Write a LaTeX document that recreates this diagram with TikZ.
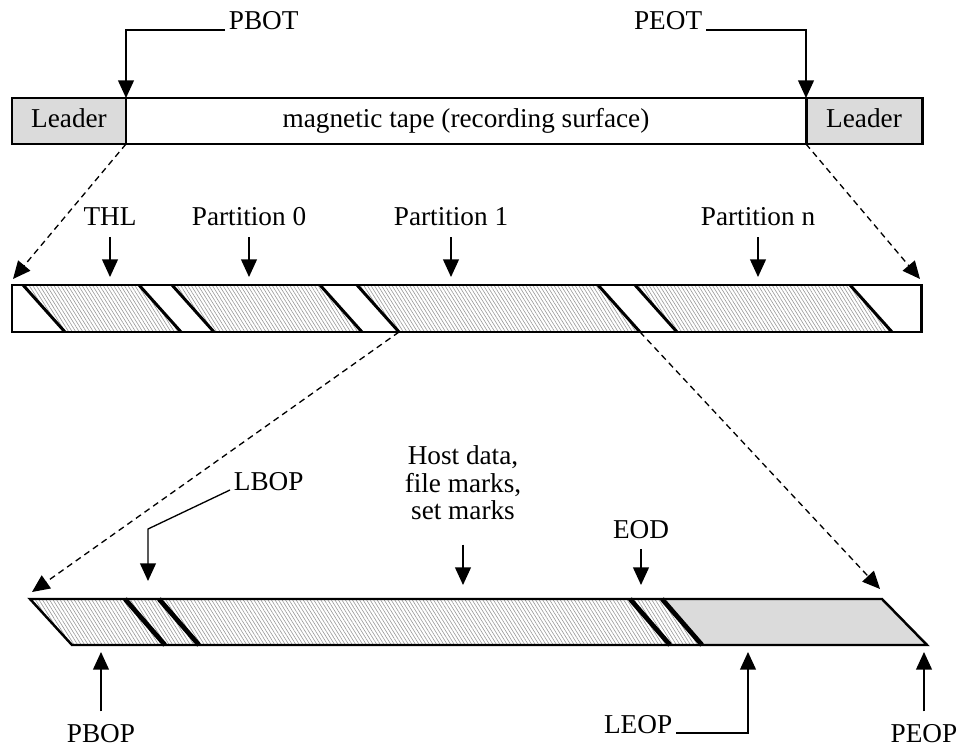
\documentclass[tikz,border=0pt]{standalone}
\usepackage{fontspec}
\setmainfont{Liberation Serif}
\usetikzlibrary{arrows.meta,patterns.meta}
\begin{document}
\begin{tikzpicture}[x=0.02cm,y=-0.02cm,
  font=\fontsize{15.5}{15.5}\selectfont,
  tapeedge/.style={line width=1.7pt},
  filemark/.style={line width=2.7pt},
  pointer/.style={line width=0.75pt,-{Triangle[width=9pt,length=10pt]}},
  zoomline/.style={line width=0.75pt,dash pattern=on 3.5pt off 2.5pt,-{Triangle[width=9pt,length=10pt]}},
  hatch/.style={pattern={Lines[angle=-58,distance=1.7pt,line width=0.35pt]},pattern color=gray!80},
  leaderfill/.style={fill=black!14},
  callout/.style={inner sep=2pt}]
\useasboundingbox (0,0) rectangle (963,746);
% whole tape with leaders
\draw[tapeedge,leaderfill] (12,98) rectangle (126,144);
\draw[tapeedge] (126,98) rectangle (806,144);
\draw[tapeedge,leaderfill] (806,98) rectangle (922,144);
\node[anchor=base] (leadL) at (69,128) {Leader};
\node[anchor=base] (surface) at (466,128) {magnetic tape (recording surface)};
\node[anchor=base] (leadR) at (864,128) {Leader};
\coordinate (bot) at (126,98);
\coordinate (eot) at (806,98);
\coordinate (botlow) at (126,144);
\coordinate (eotlow) at (806,144);
\node[callout,anchor=base west] (pbot) at (225,30) {PBOT};
\node[callout,anchor=base east] (peot) at (706,30) {PEOT};
\draw[pointer] (pbot.base west) -| (bot);
\draw[pointer] (peot.base east) -| (eot);
% partitions
\foreach \a/\b in {23/139,172/320,357/598,635/850}
  \fill[hatch] (\a,285) -- (\b,285) -- (\b+42,332) -- (\a+42,332) -- cycle;
\draw[tapeedge] (12,285) rectangle (921,332);
\foreach \p in {23,139,172,320,357,598,635,850}
  \draw[tapeedge] (\p,285) -- (\p+42,332);
\coordinate (midTL) at (13,279);
\coordinate (midTR) at (920,279);
\coordinate (midtop) at (0,277);
\coordinate (poneL) at (399,332);
\coordinate (poneR) at (640,332);
\draw[zoomline] (botlow) -- (midTL);
\draw[zoomline] (eotlow) -- (midTR);
\node[callout,anchor=base] (thl) at (110,226) {THL};
\node[callout,anchor=base] (part0) at (249,226) {Partition 0};
\node[callout,anchor=base] (part1) at (451,226) {Partition 1};
\node[callout,anchor=base] (partn) at (758,226) {Partition n};
\foreach \n in {thl,part0,part1,partn}
  \draw[pointer,shorten <=4pt] (\n.south) -- (\n.south |- midtop);
% one partition
\fill[hatch] (30,599) -- (662,599) -- (702,645) -- (72,645) -- cycle;
\fill[leaderfill] (662,599) -- (882,599) -- (927,645) -- (702,645) -- cycle;
\draw[line width=1.4pt] (30,599) -- (882,599) -- (927,645) -- (72,645) -- cycle;
\foreach \p in {125,159,630,662}
  \draw[filemark] (\p,599) -- (\p+40,645);
\coordinate (lowTL) at (32,592);
\coordinate (lowTR) at (880,589);
\coordinate (lowtop) at (0,585);
\coordinate (lowbot) at (0,652);
\draw[zoomline] (poneL) -- (lowTL);
\draw[zoomline] (poneR) -- (lowTR);
\node[callout,anchor=base west] (lbop) at (230,490) {LBOP};
\coordinate (lbopT) at (148,581);
\draw[pointer] (lbop.base west) -- (148,529) -- (lbopT);
\node[inner sep=0pt,anchor=south,align=center] (host) at (463,520) {Host data,\\file marks,\\set marks};
\draw[pointer,shorten <=14pt] (host.south) -- (host.south |- lowtop);
\node[callout,anchor=base] (eod) at (641,538) {EOD};
\draw[pointer,shorten <=4pt] (eod.south) -- (eod.south |- lowtop);
\node[callout,anchor=base] (pbop) at (101,742) {PBOP};
\node[callout,anchor=base] (peop) at (924,742) {PEOP};
\node[callout,anchor=base east] (leop) at (676,733) {LEOP};
\coordinate (leopT) at (748,652);
\draw[pointer,shorten <=5pt] (pbop.north) -- (pbop.north |- lowbot);
\draw[pointer,shorten <=5pt] (peop.north) -- (peop.north |- lowbot);
\draw[pointer] (leop.base east) -| (leopT);
\end{tikzpicture}
\end{document}
